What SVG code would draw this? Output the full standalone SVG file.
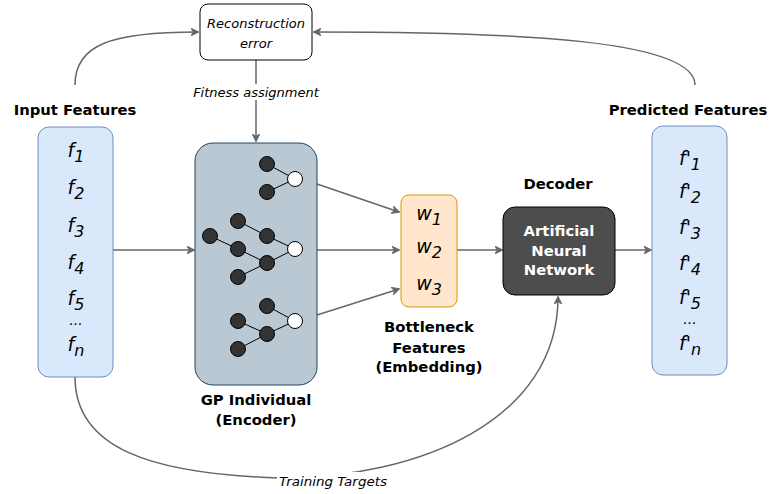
<svg xmlns="http://www.w3.org/2000/svg" width="769" height="494" viewBox="0 0 769 494">
<style>
.t{font-family:"DejaVu Sans",Verdana,sans-serif;}
.b{font-weight:bold;font-size:14.8px;fill:#000;text-anchor:middle;}
.i{font-style:italic;font-size:13px;fill:#000;text-anchor:middle;}
.f{font-style:italic;font-size:19px;fill:#000;text-anchor:middle;}
.d{font-style:italic;font-size:14px;fill:#000;text-anchor:middle;}
.sub{font-size:16px;}
.c{fill:none;stroke:#666;stroke-width:1.5;}
.blk{fill:#333;stroke:#000;stroke-width:1;}
.wht{fill:#fff;stroke:#000;stroke-width:1;}
.e{stroke:#000;stroke-width:1;}
</style>
<defs>
<marker id="ah" viewBox="0 0 10 10" refX="9" refY="5" markerWidth="8" markerHeight="8" markerUnits="userSpaceOnUse" orient="auto">
<path d="M0,0 L10,5 L0,10 L3,5 z" fill="#666" stroke="#666" stroke-width="1"/>
</marker>
</defs>
<rect width="769" height="494" fill="#fff"/>

<g id="connectors">
<path class="c" d="M75,85 C75,45 110,32 198,32" marker-end="url(#ah)"/>
<path class="c" d="M695,85 C695,40 520,32 314,32" marker-end="url(#ah)"/>
<path class="c" d="M256,60 L256,141" marker-end="url(#ah)"/>
<path class="c" d="M113,250 L194,250" marker-end="url(#ah)"/>
<path class="c" d="M317,184 L399,212" marker-end="url(#ah)"/>
<path class="c" d="M317,250 L399,250" marker-end="url(#ah)"/>
<path class="c" d="M317,315 L399,289" marker-end="url(#ah)"/>
<path class="c" d="M457,250 L502,250" marker-end="url(#ah)"/>
<path class="c" d="M615,250 L651,250" marker-end="url(#ah)"/>
<path class="c" d="M75,377 C75,448 150,474 280,478 C420,478 558,420 558,297" marker-end="url(#ah)"/>
<rect x="196" y="84" width="120" height="16" fill="#fff"/>
<text class="t i" x="256" y="97">Fitness assignment</text>
<rect x="277" y="472" width="112" height="17" fill="#fff"/>
<text class="t i" x="333" y="486" textLength="108" lengthAdjust="spacingAndGlyphs">Training Targets</text>
</g>

<g id="reconstruction">
<rect x="200" y="4" width="112" height="56" rx="8" fill="#fff" stroke="#000" stroke-width="1"/>
<text class="t i" x="256" y="28">Reconstruction</text>
<text class="t i" x="256" y="48">error</text>
</g>

<g id="input">
<text class="t b" x="75" y="115">Input Features</text>
<rect x="38" y="127" width="75" height="250" rx="11" fill="#dae8fc" stroke="#6c8ebf" stroke-width="1"/>
<text class="t f" x="76" y="157">f<tspan class="sub" dy="5">1</tspan></text>
<text class="t f" x="76" y="194">f<tspan class="sub" dy="5">2</tspan></text>
<text class="t f" x="76" y="232">f<tspan class="sub" dy="5">3</tspan></text>
<text class="t f" x="76" y="269">f<tspan class="sub" dy="5">4</tspan></text>
<text class="t f" x="76" y="305">f<tspan class="sub" dy="5">5</tspan></text>
<text class="t d" x="76" y="325">...</text>
<text class="t f" x="76" y="351">f<tspan class="sub" dy="5">n</tspan></text>
</g>

<g id="gp">
<rect x="195" y="143" width="122" height="242" rx="18" fill="#bac8d3" stroke="#23445d" stroke-width="1"/>
<line class="e" x1="267" y1="164" x2="295" y2="179"/>
<line class="e" x1="267" y1="192" x2="295" y2="179"/>
<line class="e" x1="238" y1="221" x2="267" y2="236"/>
<line class="e" x1="267" y1="236" x2="295" y2="249"/>
<line class="e" x1="210" y1="236" x2="238" y2="249"/>
<line class="e" x1="238" y1="249" x2="267" y2="263"/>
<line class="e" x1="238" y1="277" x2="267" y2="263"/>
<line class="e" x1="267" y1="263" x2="295" y2="249"/>
<line class="e" x1="267" y1="306" x2="295" y2="321"/>
<line class="e" x1="238" y1="321" x2="267" y2="334"/>
<line class="e" x1="238" y1="349" x2="267" y2="334"/>
<line class="e" x1="267" y1="334" x2="295" y2="321"/>
<circle class="blk" cx="267" cy="164" r="7.5"/>
<circle class="blk" cx="267" cy="192" r="7.5"/>
<circle class="wht" cx="295" cy="179" r="7.5"/>
<circle class="blk" cx="238" cy="221" r="7.5"/>
<circle class="blk" cx="210" cy="236" r="7.5"/>
<circle class="blk" cx="238" cy="249" r="7.5"/>
<circle class="blk" cx="267" cy="236" r="7.5"/>
<circle class="blk" cx="267" cy="263" r="7.5"/>
<circle class="blk" cx="238" cy="277" r="7.5"/>
<circle class="wht" cx="295" cy="249" r="7.5"/>
<circle class="blk" cx="267" cy="306" r="7.5"/>
<circle class="blk" cx="238" cy="321" r="7.5"/>
<circle class="blk" cx="267" cy="334" r="7.5"/>
<circle class="blk" cx="238" cy="349" r="7.5"/>
<circle class="wht" cx="295" cy="321" r="7.5"/>
<text class="t b" x="256" y="405">GP Individual</text>
<text class="t b" x="256" y="425">(Encoder)</text>
</g>

<g id="bottleneck">
<rect x="401" y="195" width="56" height="112" rx="8" fill="#ffe6cc" stroke="#d79b00" stroke-width="1"/>
<text class="t f" x="429" y="220">w<tspan class="sub" dy="5">1</tspan></text>
<text class="t f" x="429" y="253">w<tspan class="sub" dy="5">2</tspan></text>
<text class="t f" x="429" y="290">w<tspan class="sub" dy="5">3</tspan></text>
<text class="t b" x="429" y="332">Bottleneck</text>
<text class="t b" x="429" y="353">Features</text>
<text class="t b" x="429" y="372">(Embedding)</text>
</g>

<g id="decoder">
<text class="t b" x="558" y="189">Decoder</text>
<rect x="503" y="207" width="112" height="88" rx="12" fill="#4d4d4d" stroke="#000" stroke-width="1"/>
<text class="t b" x="559" y="236" style="fill:#fff">Artificial</text>
<text class="t b" x="559" y="256" style="fill:#fff">Neural</text>
<text class="t b" x="559" y="275" style="fill:#fff">Network</text>
</g>

<g id="predicted">
<text class="t b" x="688" y="115">Predicted Features</text>
<rect x="652" y="126" width="75" height="249" rx="11" fill="#dae8fc" stroke="#6c8ebf" stroke-width="1"/>
<text class="t f" x="690" y="165">f'<tspan class="sub" dy="5">1</tspan></text>
<text class="t f" x="690" y="198">f'<tspan class="sub" dy="5">2</tspan></text>
<text class="t f" x="690" y="234">f'<tspan class="sub" dy="5">3</tspan></text>
<text class="t f" x="690" y="270">f'<tspan class="sub" dy="5">4</tspan></text>
<text class="t f" x="690" y="304">f'<tspan class="sub" dy="5">5</tspan></text>
<text class="t d" x="690" y="324">...</text>
<text class="t f" x="690" y="350">f'<tspan class="sub" dy="5">n</tspan></text>
</g>
</svg>
